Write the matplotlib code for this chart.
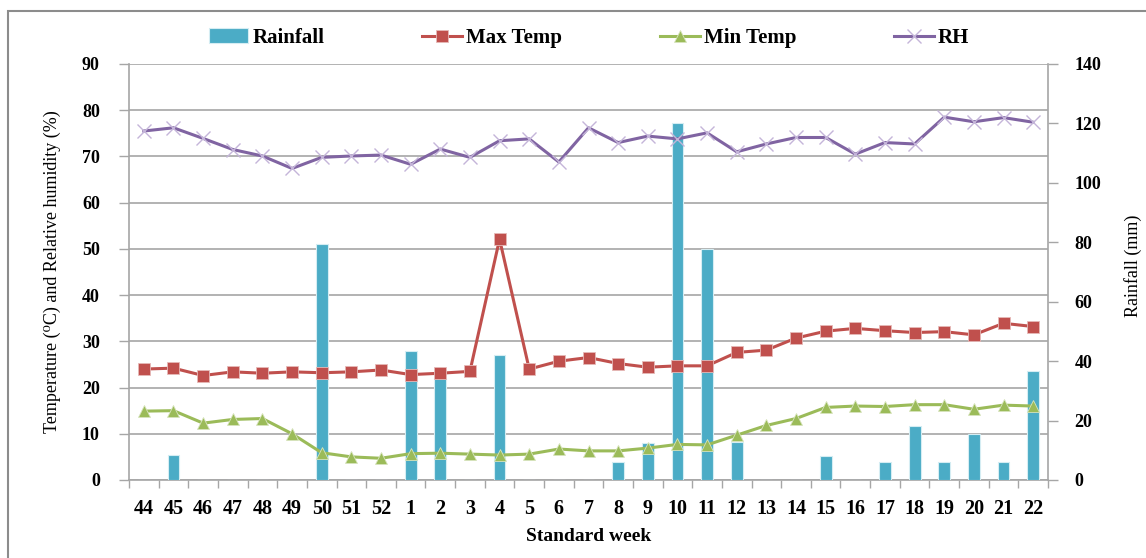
import matplotlib
matplotlib.use("Agg")
import matplotlib.pyplot as plt
from matplotlib.patches import Rectangle
import numpy as np

# font: Times-like serif, as in the original Excel chart
plt.rcParams["font.family"] = ["Liberation Serif", "DejaVu Serif"]

# data
weeks = ["44", "45", "46", "47", "48", "49", "50", "51", "52", "1", "2", "3", "4", "5", "6", "7",
         "8", "9", "10", "11", "12", "13", "14", "15", "16", "17", "18", "19", "20", "21", "22"]
rainfall = [0, 8.4, 0, 0, 0, 0, 79.4, 0, 0, 43.4, 34.2, 0, 42.1, 0, 0, 0,
            6.1, 12.4, 120.2, 77.6, 12.9, 0, 0, 8.1, 0, 6.2, 18.2, 6.2, 15.5, 6.1, 36.7]
max_temp = [24.0, 24.2, 22.6, 23.4, 23.1, 23.4, 23.2, 23.4, 23.8, 22.8, 23.1, 23.5, 52.1, 24.0, 25.7, 26.5,
            25.2, 24.4, 24.7, 24.7, 27.6, 28.1, 30.7, 32.2, 32.8, 32.3, 31.9, 32.1, 31.4, 33.9, 33.2]
min_temp = [14.9, 15.0, 12.3, 13.1, 13.3, 10.0, 5.9, 5.0, 4.7, 5.7, 5.8, 5.6, 5.4, 5.6, 6.7, 6.3,
            6.3, 6.9, 7.7, 7.6, 9.7, 11.8, 13.3, 15.7, 16.0, 15.9, 16.3, 16.3, 15.3, 16.2, 16.0]
rh = [75.5, 76.2, 73.9, 71.5, 70.1, 67.4, 69.8, 70.1, 70.3, 68.3, 71.6, 69.8, 73.4, 73.8, 68.8, 76.2,
      73.0, 74.4, 73.8, 75.1, 71.0, 72.7, 74.1, 74.1, 70.5, 73.0, 72.7, 78.5, 77.5, 78.4, 77.4]

x = np.arange(len(weeks))
grey = "#a6a6a6"

fig = plt.figure(figsize=(11.46, 5.58), dpi=100)
ax = fig.add_axes([129 / 1146, 78 / 558, 919 / 1146, 416 / 558])
ax2 = ax.twinx()   # rainfall bars, right axis
ax3 = ax.twinx()   # temperature / RH lines on top

# left axis with grid
ax.set_xlim(-0.5, len(weeks) - 0.5)
ax.set_ylim(0, 90)
ax.set_yticks(np.arange(0, 91, 10))
ax.grid(axis="y", color=grey, linewidth=1.2)
ax.set_axisbelow(True)
ax.set_xticks(x)
ax.set_xticklabels(weeks, fontsize=14.5, fontweight="bold")
ax.set_xticks(np.arange(-0.5, len(weeks), 1), minor=True)
ax.tick_params(axis="x", which="major", length=0, pad=14)
ax.tick_params(axis="x", which="minor", length=6, color=grey, width=1)
ax.tick_params(axis="y", length=7, color=grey, width=1, pad=14, labelsize=13)
for lab in ax.get_yticklabels():
    lab.set_fontweight("bold")
for s in ["top", "right"]:
    ax.spines[s].set_visible(False)
for s in ["left", "bottom"]:
    ax.spines[s].set_color(grey)
    ax.spines[s].set_linewidth(1.2)
ax.set_xlabel("Standard week", fontsize=14, fontweight="bold")
ax.xaxis.set_label_coords(0.5, -0.115)
ax.set_ylabel("Temperature (⁰C) and Relative humidity (%)", fontsize=13)
ax.yaxis.set_label_coords(-0.074, 0.5)

# bars on the right axis
bars = ax2.bar(x, rainfall, width=0.4, color="#4bacc6", edgecolor="#d5edf3", linewidth=0.8,
               label="Rainfall")
ax2.set_ylim(0, 140)
ax2.set_yticks(np.arange(0, 141, 20))
ax2.tick_params(axis="y", length=7, color=grey, width=1, pad=12, labelsize=13)
for lab in ax2.get_yticklabels():
    lab.set_fontweight("bold")
for s in ["top", "left", "bottom"]:
    ax2.spines[s].set_visible(False)
ax2.spines["right"].set_color(grey)
ax2.spines["right"].set_linewidth(1.2)
ax2.set_ylabel("Rainfall (mm)", fontsize=13)
ax2.yaxis.set_label_coords(1.083, 0.514)

# lines
ax3.set_ylim(0, 90)
ax3.axis("off")
l1, = ax3.plot(x, max_temp, color="#c0504d", linewidth=2.2, marker="s", markersize=8.5,
               markeredgecolor="#e6b9b8", markeredgewidth=0.6, label="Max Temp")
l2, = ax3.plot(x, min_temp, color="#9bbb59", linewidth=2.2, marker="^", markersize=9,
               markeredgecolor="#d7e4bd", markeredgewidth=0.6, label="Min Temp")
l3, = ax3.plot(x, rh, color="#8064a2", linewidth=2.2, marker="x", markersize=10,
               markeredgecolor="#c4b5d9", markeredgewidth=1.0, label="RH")

fig.legend(handles=[bars, l1, l2, l3], loc="center", bbox_to_anchor=(0.514, 0.932), ncol=4,
           frameon=False, prop={"family": "Liberation Serif", "weight": "bold", "size": 15},
           handlelength=1.9, handletextpad=0.2, columnspacing=4.7)

# outer chart border (partially cropped in the original)
fig.add_artist(Rectangle((8 / 1146, -0.1), 1.2, (558 - 11) / 558 + 0.1, transform=fig.transFigure,
                         fill=False, edgecolor="#8c8c8c", linewidth=1.5))

fig.savefig("out.png", dpi=100)
